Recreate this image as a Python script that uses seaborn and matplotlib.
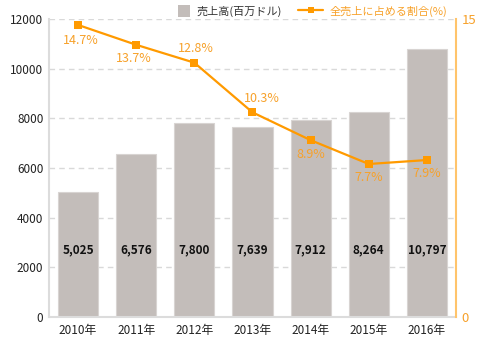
import matplotlib
matplotlib.use("Agg")
import matplotlib.pyplot as plt
from matplotlib.lines import Line2D
from matplotlib.patches import Patch, Rectangle
from matplotlib.legend_handler import HandlerPatch
import seaborn as sns
import pandas as pd

years = ["2010年", "2011年", "2012年", "2013年", "2014年", "2015年", "2016年"]
sales = [5025, 6576, 7800, 7639, 7912, 8264, 10797]
share = [14.7, 13.7, 12.8, 10.3, 8.9, 7.7, 7.9]
# vertical offset (points) of each share label from its marker
share_label_dy = [-11, -10, 10, 10, -10, -10, -10]
share_label_dx = [2, -2, 1, 7, 0, 0, 0]

sns.set_theme(style="white")
plt.rcParams["font.family"] = ["Noto Sans CJK JP", "DejaVu Sans"]

df = pd.DataFrame({"year": years, "sales": sales, "share": share})

BAR = "#c3bdba"
ORANGE = "#ff9a00"
ORANGE_TXT = "#f7a12a"
AXIS_ORANGE = "#ffc46b"
GRID = "#d9d9d9"

fig = plt.figure(figsize=(4.8, 3.39), dpi=100)
ax = fig.add_axes([0.102, 0.065, 0.848, 0.879])

sns.barplot(data=df, x="year", y="sales", color=BAR, width=0.69,
            edgecolor="#d8d4d2", linewidth=0.8, saturation=1, ax=ax, zorder=2)
ax.set_xlim(-0.5, 6.5)
ax.set_ylim(0, 12000)
ax.set_yticks(range(0, 12001, 2000))
ax.set_xlabel("")
ax.set_ylabel("")
ax.grid(axis="y", color=GRID, linestyle=(0, (4, 3)), linewidth=1, zorder=0)
ax.set_axisbelow(True)
for s in ["top", "right"]:
    ax.spines[s].set_visible(False)
for s in ["left", "bottom"]:
    ax.spines[s].set_color("#dcdcdc")
    ax.spines[s].set_linewidth(1.5)
ax.tick_params(axis="both", length=0, labelsize=8.5, colors="#222222", pad=4)
ax.tick_params(axis="x", pad=5)

for i, v in enumerate(sales):
    ax.text(i, 2700, f"{v:,}", ha="center", va="center", fontsize=8.5,
            fontweight="bold", color="#111111", zorder=5)

ax2 = ax.twinx()
sns.lineplot(x=list(range(len(years))), y=share, ax=ax2, color=ORANGE,
             linewidth=1.6, marker="s", markersize=6, markeredgewidth=0,
             zorder=6)
ax2.set_ylim(0, 15)
ax2.set_xlim(-0.5, 6.5)
ax2.set_yticks([0, 15])
ax2.set_ylabel("")
for s in ["top", "left", "bottom"]:
    ax2.spines[s].set_visible(False)
ax2.spines["right"].set_color(AXIS_ORANGE)
ax2.spines["right"].set_linewidth(1.5)
ax2.tick_params(axis="y", length=0, labelsize=9.5, colors=ORANGE_TXT, pad=4)

for i, (p, dy, dx) in enumerate(zip(share, share_label_dy, share_label_dx)):
    ax2.annotate(f"{p}%", (i, p), xytext=(dx, dy), textcoords="offset points",
                 ha="center", va="center", fontsize=9, color=ORANGE_TXT,
                 zorder=7)


def small_square(legend, orig_handle, xdescent, ydescent, width, height,
                 fontsize):
    side = height * 1.25
    return Rectangle((width - side - xdescent, -ydescent + (height - side) / 2),
                     side, side)


handles = [
    Patch(facecolor=BAR, edgecolor="none"),
    Line2D([0], [0], color=ORANGE, linewidth=1.6, marker="s", markersize=5,
           markeredgewidth=0),
]
leg = fig.legend(handles, ["売上高(百万ドル)", "全売上に占める割合(%)"],
                 loc="center", bbox_to_anchor=(0.638, 0.967), ncol=2,
                 frameon=False, fontsize=8, handlelength=2.2,
                 handleheight=0.9, columnspacing=1.5, handletextpad=0.6,
                 handler_map={Patch: HandlerPatch(patch_func=small_square)})
leg.get_texts()[0].set_color("#333333")
leg.get_texts()[1].set_color(ORANGE_TXT)

fig.savefig("out.png", dpi=100)
